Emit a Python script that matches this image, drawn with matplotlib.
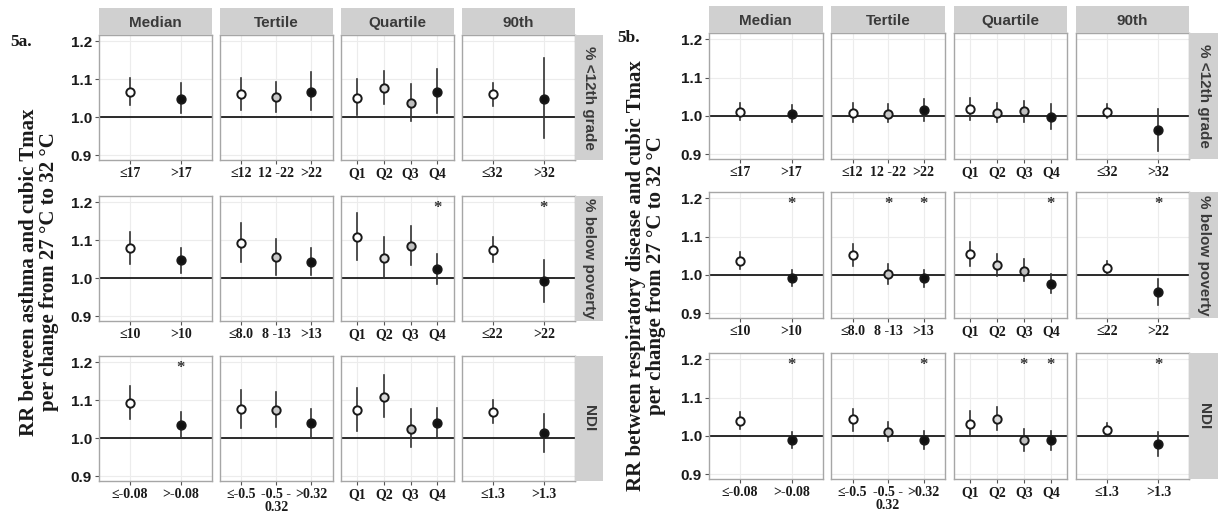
import matplotlib
matplotlib.use('Agg')
import matplotlib.pyplot as plt

# ---------------- data ----------------
groups = ['Median', 'Tertile', 'Quartile', '90th']
rows = ['% <12th grade', '% below poverty', 'NDI']

edu_labels = [['≤17', '>17'], ['≤12', '12 -22', '>22'], ['Q1', 'Q2', 'Q3', 'Q4'], ['≤32', '>32']]
pov_labels = [['≤10', '>10'], ['≤8.0', '8 -13', '>13'], ['Q1', 'Q2', 'Q3', 'Q4'], ['≤22', '>22']]
ndi_labels = [['≤-0.08', '>-0.08'], ['≤-0.5', '-0.5 -\n0.32', '>0.32'], ['Q1', 'Q2', 'Q3', 'Q4'], ['≤1.3', '>1.3']]

point_fills = [['white', '#111111'], ['white', '#c8c8c8', '#111111'],
               ['white', '#d9d9d9', '#bfbfbf', '#111111'], ['white', '#111111']]

# 5a: asthma
asthma_edu_rr = [[1.067, 1.048], [1.060, 1.054, 1.067], [1.052, 1.078, 1.038, 1.067], [1.060, 1.047]]
asthma_edu_lo = [[1.032, 1.010], [1.020, 1.014, 1.019], [1.005, 1.034, 0.989, 1.010], [1.030, 0.946]]
asthma_edu_hi = [[1.103, 1.089], [1.103, 1.094, 1.118], [1.101, 1.123, 1.087, 1.127], [1.089, 1.156]]
asthma_edu_sig = [[0, 0], [0, 0, 0], [0, 0, 0, 0], [0, 0]]

asthma_pov_rr = [[1.079, 1.048], [1.093, 1.056, 1.044], [1.108, 1.054, 1.086, 1.025], [1.075, 0.992]]
asthma_pov_lo = [[1.037, 1.015], [1.044, 1.009, 1.008], [1.048, 1.000, 1.035, 0.984], [1.044, 0.938]]
asthma_pov_hi = [[1.121, 1.081], [1.145, 1.104, 1.081], [1.171, 1.108, 1.139, 1.065], [1.108, 1.048]]
asthma_pov_sig = [[0, 0], [0, 0, 0], [0, 0, 0, 1], [0, 1]]

asthma_ndi_rr = [[1.093, 1.036], [1.077, 1.074, 1.039], [1.074, 1.110, 1.024, 1.041], [1.070, 1.013]]
asthma_ndi_lo = [[1.052, 1.002], [1.028, 1.030, 1.000], [1.019, 1.056, 0.976, 1.000], [1.041, 0.964]]
asthma_ndi_hi = [[1.138, 1.069], [1.128, 1.121, 1.076], [1.132, 1.167, 1.076, 1.080], [1.102, 1.065]]
asthma_ndi_sig = [[0, 1], [0, 0, 0], [0, 0, 0, 0], [0, 0]]

# 5b: respiratory disease
resp_edu_rr = [[1.011, 1.006], [1.007, 1.006, 1.016], [1.017, 1.007, 1.013, 0.997], [1.011, 0.962]]
resp_edu_lo = [[0.990, 0.985], [0.984, 0.984, 0.987], [0.988, 0.983, 0.985, 0.965], [0.994, 0.907]]
resp_edu_hi = [[1.033, 1.029], [1.033, 1.031, 1.044], [1.046, 1.033, 1.039, 1.031], [1.031, 1.018]]
resp_edu_sig = [[0, 0], [0, 0, 0], [0, 0, 0, 0], [0, 0]]

resp_pov_rr = [[1.037, 0.991], [1.053, 1.003, 0.991], [1.055, 1.025, 1.011, 0.977], [1.017, 0.954]]
resp_pov_lo = [[1.016, 0.970], [1.024, 0.977, 0.968], [1.022, 0.996, 0.983, 0.952], [1.003, 0.920]]
resp_pov_hi = [[1.061, 1.013], [1.082, 1.029, 1.014], [1.087, 1.055, 1.042, 1.001], [1.037, 0.990]]
resp_pov_sig = [[0, 1], [0, 1, 1], [0, 0, 0, 1], [0, 1]]

resp_ndi_rr = [[1.038, 0.988], [1.043, 1.010, 0.989], [1.032, 1.044, 0.988, 0.988], [1.016, 0.978]]
resp_ndi_lo = [[1.017, 0.967], [1.014, 0.986, 0.966], [1.002, 1.015, 0.960, 0.964], [1.002, 0.947]]
resp_ndi_hi = [[1.063, 1.010], [1.071, 1.037, 1.012], [1.064, 1.075, 1.017, 1.014], [1.034, 1.010]]
resp_ndi_sig = [[0, 1], [0, 0, 1], [0, 0, 1, 1], [0, 1]]

y_ticks = [0.9, 1.0, 1.1, 1.2]
star_y = 1.185

# ---------------- drawing ----------------
W, H = 1221, 516
fig = plt.figure(figsize=(W / 100, H / 100), dpi=100)

SERIF = ['Liberation Serif', 'DejaVu Serif']
SANS = ['Liberation Sans', 'DejaVu Sans']


def px_axes(x, y, w, h):
    return fig.add_axes([x / W, 1 - (y + h) / H, w / W, h / H])


def draw_figure(x0, col_step, col_w, row_tops, row_h, strip_h, rstrip_w, data, ylabel, tag, tag_xy,
                ylab_x, ylab_y):
    for r, (rr, lo, hi, sig, labels) in enumerate(data):
        for c in range(4):
            x = x0 + c * col_step
            y = row_tops[r]
            ax = px_axes(x, y, col_w, row_h)
            n = len(rr[c])
            pos = list(range(1, n + 1))
            ax.set_xlim(0.4, n + 0.6)
            ax.set_ylim(0.887, 1.217)
            ax.set_facecolor('white')
            for sp in ax.spines.values():
                sp.set_color('#a6a6a6')
                sp.set_linewidth(1.0)
            ax.set_axisbelow(True)
            ax.grid(True, color='#ececec', linewidth=0.8)
            ax.axhline(1.0, color='#1a1a1a', linewidth=1.3, zorder=2)
            for i in range(n):
                ax.plot([pos[i], pos[i]], [lo[c][i], hi[c][i]], color='#333333', linewidth=1.2, zorder=3)
                ax.plot(pos[i], rr[c][i], marker='o', markersize=6, markerfacecolor=point_fills[c][i],
                        markeredgecolor='#1a1a1a', markeredgewidth=1.4, linestyle='none', zorder=4)
                if sig[c][i]:
                    ax.text(pos[i], star_y, '*', ha='center', va='center', fontsize=12,
                            color='#333333', family=SERIF, fontweight='bold', zorder=5)
            ax.set_xticks(pos)
            ax.set_xticklabels(labels[c], family=SERIF, fontweight='bold', fontsize=10,
                               color='#1a1a1a', linespacing=1.0)
            ax.set_yticks(y_ticks)
            ax.tick_params(axis='x', length=3, width=0.8, color='#555555', pad=2)
            ax.tick_params(axis='y', length=3, width=0.8, color='#555555', pad=2)
            if c == 0:
                ax.set_yticklabels(['0.9', '1.0', '1.1', '1.2'], family=SANS, fontweight='bold',
                                   fontsize=11, color='#1a1a1a')
            else:
                ax.set_yticklabels([])
                ax.tick_params(axis='y', length=0)
            # top strip
            if r == 0:
                sax = px_axes(x, y - strip_h, col_w, strip_h)
                sax.set_facecolor('#d0d0d0')
                sax.set_xticks([]); sax.set_yticks([])
                for sp in sax.spines.values():
                    sp.set_visible(False)
                sax.text(0.5, 0.45, groups[c], transform=sax.transAxes, ha='center', va='center',
                         family=SANS, fontweight='bold', fontsize=11, color='#3a3a3a')
            # right strip
            if c == 3:
                rax = px_axes(x + col_w, y, rstrip_w, row_h)
                rax.set_facecolor('#d0d0d0')
                rax.set_xticks([]); rax.set_yticks([])
                for sp in rax.spines.values():
                    sp.set_visible(False)
                rax.text(0.5, 0.5, rows[r], transform=rax.transAxes, ha='center', va='center',
                         rotation=-90, family=SANS, fontweight='bold', fontsize=11, color='#3a3a3a')
    fig.text(tag_xy[0] / W, 1 - tag_xy[1] / H, tag, family=SERIF, fontweight='bold', fontsize=12.5,
             ha='left', va='center', color='#1a1a1a')
    fig.text(ylab_x / W, 1 - ylab_y / H, ylabel, rotation=90, ha='center', va='center',
             multialignment='center', family=SERIF, fontweight='bold', fontsize=15,
             color='#1a1a1a', linespacing=0.95)


data_a = [
    (asthma_edu_rr, asthma_edu_lo, asthma_edu_hi, asthma_edu_sig, edu_labels),
    (asthma_pov_rr, asthma_pov_lo, asthma_pov_hi, asthma_pov_sig, pov_labels),
    (asthma_ndi_rr, asthma_ndi_lo, asthma_ndi_hi, asthma_ndi_sig, ndi_labels),
]
data_b = [
    (resp_edu_rr, resp_edu_lo, resp_edu_hi, resp_edu_sig, edu_labels),
    (resp_pov_rr, resp_pov_lo, resp_pov_hi, resp_pov_sig, pov_labels),
    (resp_ndi_rr, resp_ndi_lo, resp_ndi_hi, resp_ndi_sig, ndi_labels),
]

draw_figure(99, 121.0, 112.5, [35, 196, 356], 125, 27, 28, data_a,
            'RR between asthma and cubic Tmax\nper change from 27 °C to 32 °C', '5a.', (10, 42), 39, 272)
draw_figure(709, 122.3, 113.5, [33, 192, 353], 126, 27, 29, data_b,
            'RR between respiratory disease and cubic Tmax\nper change from 27 °C to 32 °C', '5b.', (617, 38),
            646, 276)

fig.savefig('out.png', dpi=100, facecolor='white')
